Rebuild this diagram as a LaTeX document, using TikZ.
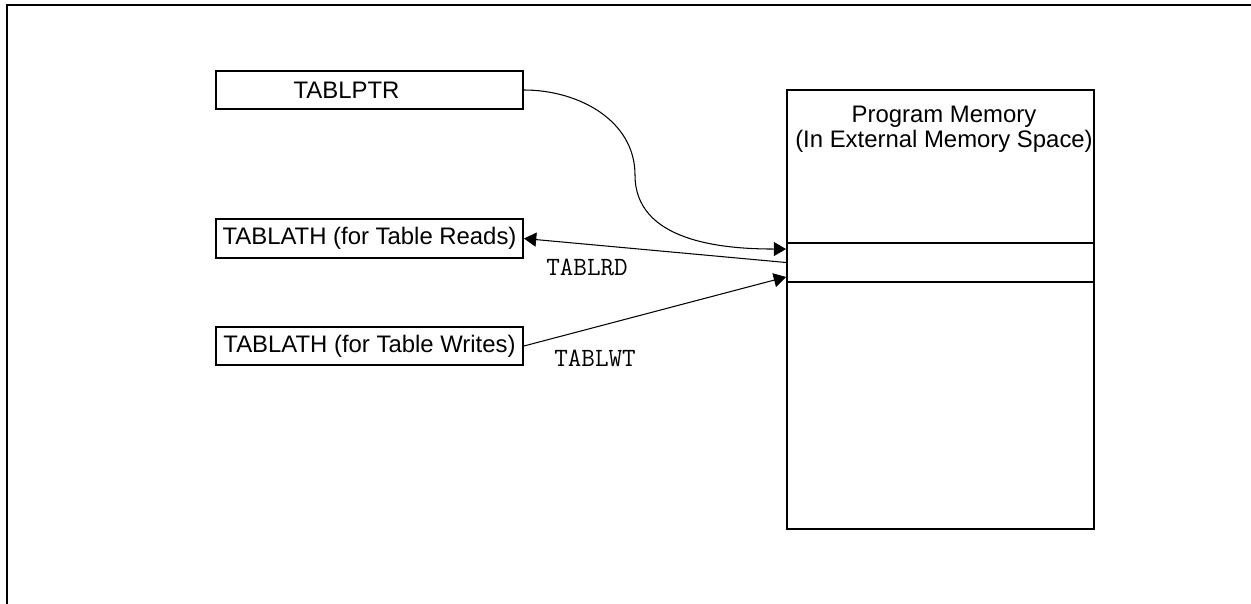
\documentclass[tikz,border=0pt]{standalone}
\usepackage{fontspec}
\setmainfont{Liberation Sans}
\usetikzlibrary{arrows.meta,calc}
\tikzset{
  regbox/.style={draw,line width=1.1pt,minimum width=6.14cm,minimum height=0.77cm,inner sep=0pt,font=\fontsize{13.6}{16}\selectfont},
  conn/.style={line width=0.6pt,-{Triangle[length=7pt,width=8pt]}},
  oplbl/.style={font=\ttfamily\fontsize{15}{17}\selectfont,inner sep=0pt}
}
\begin{document}
\begin{tikzpicture}[x=0.02cm,y=0.02cm]
      \useasboundingbox(0,0)rectangle(1251,-604);
      \draw[line width=1.1pt](7,-604)--(7,-5)--(1251,-5);
      % registers
      \node[regbox](ptr)at(369.5,-90){TABLPTR\hspace*{0.92cm}};
      \node[regbox](rd)at(369.5,-238.5){TABLATH (for Table Reads)};
      \node[regbox](wt)at(369.5,-346){TABLATH (for Table Writes)};
      % memory
      \node[regbox,minimum height=8.78cm](mem)at(940.5,-309.5){};
      \node[regbox,minimum height=0.78cm](slot)at(940.5,-262.5){};
      \node[align=center,font=\fontsize{13.6}{14.4}\selectfont,inner sep=0pt](memlbl)at(944,-129){Program Memory\\(In External Memory Space)};
      \coordinate(bend)at(635,-175);\coordinate(ptrin)at($(slot.north west)+(0,-7)$);\coordinate(wtin)at($(slot.south west)+(0,6)$);
      \draw[conn](ptr.east)to[out=0,in=90](bend)to[out=-90,in=180](ptrin);
      \draw[conn](slot.west)--(rd.east);
      \draw[conn](wt.east)--(wtin);
      \node[oplbl](rdlbl)at(587,-267){TABLRD};
      \node[oplbl](wtlbl)at(595,-358){TABLWT};
    \end{tikzpicture}
\end{document}
